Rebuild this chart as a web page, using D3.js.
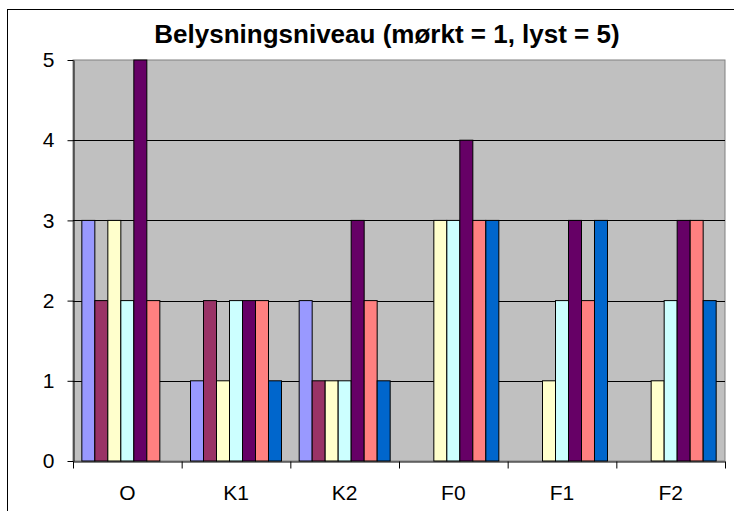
<!DOCTYPE html>
<html>
<head>
<meta charset="utf-8">
<script src="https://cdn.jsdelivr.net/npm/d3@7"></script>
<style>
  body { margin: 0; background: #fff; }
  text { font-family: "Liberation Sans", Arial, sans-serif; }
</style>
</head>
<body>
<svg width="734" height="511"></svg>
<script>
  const categories = ['O', 'K1', 'K2', 'F0', 'F1', 'F2'];
  const seriesColors = ['#9999FF', '#993366', '#FFFFCC', '#CCFFFF', '#660066', '#FF8080', '#0066CC'];
  // one array per series, values per category
  const s1 = [3, 1, 2, 0, 0, 0];
  const s2 = [2, 2, 1, 0, 0, 0];
  const s3 = [3, 1, 1, 3, 1, 1];
  const s4 = [2, 2, 1, 3, 2, 2];
  const s5 = [5, 2, 3, 4, 3, 3];
  const s6 = [2, 2, 2, 3, 2, 3];
  const s7 = [0, 1, 1, 3, 3, 2];
  const series = [s1, s2, s3, s4, s5, s6, s7];
  const yTicks = [0, 1, 2, 3, 4, 5];
  const title = 'Belysningsniveau (mørkt = 1, lyst = 5)';

  const svg = d3.select('svg');
  const m = { left: 73, right: 725, top: 60, bottom: 461 };

  // chart border
  svg.append('rect')
    .attr('x', 7.5).attr('y', 9.5)
    .attr('width', 740).attr('height', 520)
    .attr('fill', 'none').attr('stroke', '#000');

  const x = d3.scaleBand().domain(categories).range([m.left, m.right]);
  const xs = d3.scaleBand().domain(d3.range(series.length))
    .range([0, x.bandwidth()]).paddingOuter(0.68);
  const y = d3.scaleLinear().domain([0, 5]).range([m.bottom, m.top]);

  svg.append('rect')
    .attr('x', m.left).attr('y', m.top)
    .attr('width', m.right - m.left).attr('height', m.bottom - m.top)
    .attr('fill', '#C0C0C0').attr('stroke', '#808080');

  // gridlines
  svg.append('g').selectAll('line')
    .data(yTicks.filter(d => d > 0 && d < 5))
    .join('line')
    .attr('x1', m.left).attr('x2', m.right)
    .attr('y1', d => Math.round(y(d)) + 0.5).attr('y2', d => Math.round(y(d)) + 0.5)
    .attr('stroke', '#000');

  // bars
  const groups = svg.append('g').selectAll('g')
    .data(categories)
    .join('g')
    .attr('transform', d => `translate(${x(d)},0)`);

  groups.selectAll('rect')
    .data((c, ci) => series.map((s, si) => ({ si, v: s[ci] })).filter(d => d.v > 0))
    .join('rect')
    .attr('x', d => xs(d.si))
    .attr('width', xs.bandwidth())
    .attr('y', d => y(d.v))
    .attr('height', d => y(0) - y(d.v))
    .attr('fill', d => seriesColors[d.si])
    .attr('stroke', '#000')
    .attr('stroke-width', 1);

  // y axis
  const yAxis = svg.append('g')
    .attr('transform', `translate(${m.left + 0.5},0)`)
    .call(d3.axisLeft(y).tickValues(yTicks).tickFormat(d3.format('d'))
      .tickSize(6).tickSizeOuter(0).tickPadding(13));
  yAxis.selectAll('text').style('font-size', '21px').attr('fill', '#000')
    .style('font-family', '"Liberation Sans", Arial, sans-serif');
  yAxis.selectAll('line, path').attr('stroke', '#000');

  // x axis
  const xAxis = svg.append('g')
    .attr('transform', `translate(0,${m.bottom + 0.5})`)
    .call(d3.axisBottom(x).tickSize(0).tickSizeOuter(0).tickPadding(24));
  xAxis.selectAll('text').style('font-size', '21px').attr('fill', '#000')
    .style('font-family', '"Liberation Sans", Arial, sans-serif');
  xAxis.select('path').attr('stroke', '#000');
  xAxis.append('g').selectAll('line')
    .data(categories.map(c => x(c)).concat([m.right]))
    .join('line')
    .attr('x1', d => d + 0.5).attr('x2', d => d + 0.5)
    .attr('y1', 0).attr('y2', 7)
    .attr('stroke', '#000');

  svg.append('text')
    .attr('x', 387).attr('y', 43)
    .attr('text-anchor', 'middle')
    .style('font-size', '26px').attr('font-weight', 'bold')
    .text(title);
</script>
</body>
</html>
